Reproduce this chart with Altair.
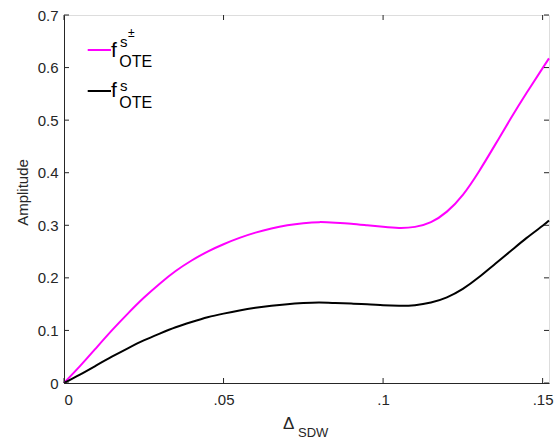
import altair as alt
import pandas as pd

# ---- data ----
delta = [0, 0.005, 0.01, 0.015, 0.02, 0.025, 0.03, 0.035, 0.04, 0.045, 0.05,
         0.055, 0.06, 0.065, 0.07, 0.075, 0.08, 0.085, 0.09, 0.095, 0.1,
         0.105, 0.11, 0.115, 0.12, 0.125, 0.13, 0.135, 0.14, 0.145, 0.15, 0.152]
f_spm = [0, 0.032, 0.066, 0.100, 0.132, 0.162, 0.189, 0.213, 0.233, 0.250, 0.264,
         0.276, 0.286, 0.294, 0.300, 0.304, 0.306, 0.305, 0.303, 0.300, 0.297,
         0.295, 0.297, 0.306, 0.326, 0.358, 0.402, 0.452, 0.503, 0.552, 0.599, 0.6175]
f_s = [0, 0.016, 0.033, 0.050, 0.066, 0.081, 0.094, 0.106, 0.116, 0.125, 0.132,
       0.138, 0.143, 0.147, 0.150, 0.152, 0.153, 0.152, 0.151, 0.150, 0.148,
       0.147, 0.148, 0.153, 0.163, 0.179, 0.201, 0.226, 0.251, 0.276, 0.299, 0.309]

x_ticks = [0, 0.05, 0.1, 0.15]
x_tick_labels = ["0", ".05", ".1", ".15"]
y_ticks = [0, 0.1, 0.2, 0.3, 0.4, 0.5, 0.6, 0.7]
y_tick_labels = ["0", "0.1", "0.2", "0.3", "0.4", "0.5", "0.6", "0.7"]

X_MAX = 0.152
Y_MAX = 0.7
W, H = 485, 368
FONT = "Liberation Sans"
AX = "#262626"

df = pd.DataFrame({
    "x": delta * 2,
    "y": f_spm + f_s,
    "s": ["spm"] * len(delta) + ["s"] * len(delta),
})

xs = alt.Scale(domain=[0, X_MAX], nice=False, zero=False)
ys = alt.Scale(domain=[0, Y_MAX], nice=False, zero=False)

xlab_expr = "{" + ",".join(f"'{v}':'{l}'" for v, l in zip(x_ticks, x_tick_labels)) + "}[toString(datum.value)]"
ylab_expr = "{" + ",".join(f"'{v}':'{l}'" for v, l in zip(y_ticks, y_tick_labels)) + "}[toString(datum.value)]"

base = alt.Chart(df)
lines = base.mark_line(strokeWidth=2, interpolate="natural").encode(
    x=alt.X("x:Q", scale=xs, axis=alt.Axis(
        values=x_ticks, labelExpr=xlab_expr, title=None, ticks=False, grid=False,
        labelFont=FONT, labelFontSize=15, labelColor=AX, labelPadding=9,
        domainColor=AX, domainWidth=1)),
    y=alt.Y("y:Q", scale=ys, axis=alt.Axis(
        values=y_ticks, labelExpr=ylab_expr, title=None, ticks=False, grid=False,
        labelFont=FONT, labelFontSize=15, labelColor=AX, labelPadding=6,
        domainColor=AX, domainWidth=1)),
    color=alt.Color("s:N", scale=alt.Scale(domain=["spm", "s"], range=["#ff00ff", "#000000"]), legend=None),
)

xt = pd.DataFrame({"t": x_ticks})
yt = pd.DataFrame({"t": y_ticks})
tick_style = dict(color=AX, strokeWidth=1)
bottom_ticks = alt.Chart(xt).mark_rule(**tick_style).encode(
    x=alt.X("t:Q", scale=xs), y=alt.value(H), y2=alt.value(H - 5))
top_ticks = alt.Chart(xt).mark_rule(**tick_style).encode(
    x=alt.X("t:Q", scale=xs), y=alt.value(0), y2=alt.value(5))
left_ticks = alt.Chart(yt).mark_rule(**tick_style).encode(
    y=alt.Y("t:Q", scale=ys), x=alt.value(0), x2=alt.value(5))
right_ticks = alt.Chart(yt).mark_rule(**tick_style).encode(
    y=alt.Y("t:Q", scale=ys), x=alt.value(W), x2=alt.value(W - 5))

one = pd.DataFrame({"a": [0]})

def txt(s, x, y, size, align="left", baseline="alphabetic", angle=0, color="#000000"):
    kw = dict(text=s, font=FONT, fontSize=size, align=align, baseline=baseline, color=color)
    if angle:
        kw["angle"] = angle
    return alt.Chart(one).mark_text(**kw).encode(x=alt.value(x), y=alt.value(y))

def seg(x1, x2, y, color):
    return alt.Chart(one).mark_rule(color=color, strokeWidth=2).encode(
        x=alt.value(x1), x2=alt.value(x2), y=alt.value(y))

legend = [
    seg(23.7, 47, 35, "#ff00ff"),
    txt("f", 47, 41.7, 21),
    txt("s", 56, 31.7, 15),
    txt("±", 64, 22, 12),
    txt("OTE", 55.3, 51.7, 16),
    seg(23.7, 47, 76, "#000000"),
    txt("f", 47, 82.3, 21),
    txt("s", 56, 75.7, 15),
    txt("OTE", 55.3, 93.3, 16),
]

titles = [
    txt("Δ", 219, 414, 17, color=AX),
    txt("SDW", 234, 422, 13, color=AX),
    txt("Amplitude", -41, 177.5, 15, align="center", baseline="middle", angle=270, color=AX),
]

chart = alt.layer(
    lines, bottom_ticks, top_ticks, left_ticks, right_ticks, *legend, *titles
).properties(
    width=W, height=H,
    autosize=alt.AutoSizeParams(type="none"),
    padding={"left": 64, "top": 15, "right": 11, "bottom": 58},
).configure_view(stroke=AX, strokeWidth=1).configure(background="white")

chart.save("out.html", embed_options={"renderer": "svg", "actions": False})
